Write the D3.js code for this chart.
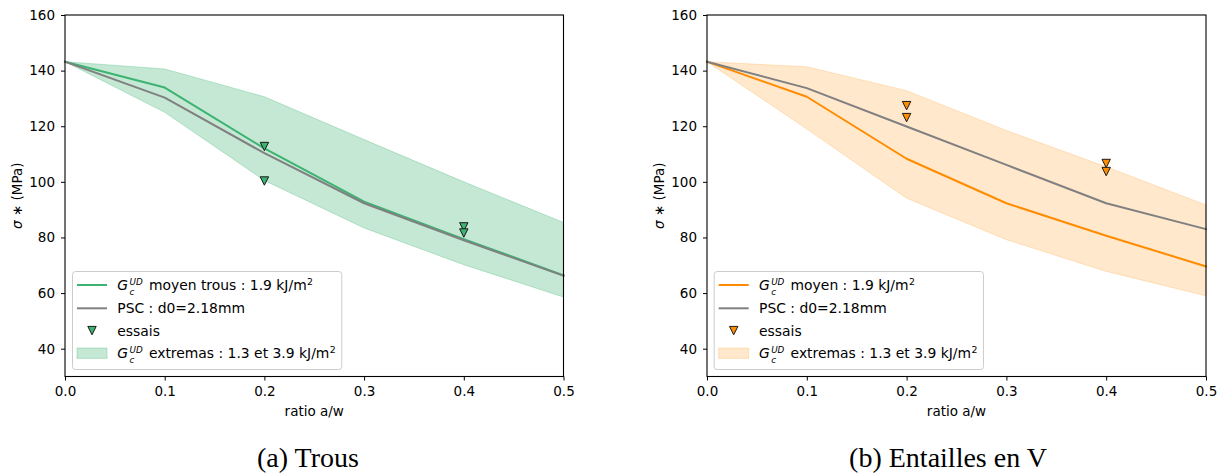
<!DOCTYPE html>
<html>
<head>
<meta charset="utf-8">
<script src="https://cdn.jsdelivr.net/npm/d3@7"></script>
<style>
  html, body { margin: 0; padding: 0; background: #ffffff; }
  svg { display: block; }
  text { white-space: pre; }
</style>
</head>
<body>
<div id="chart"></div>
<script>
// ---------------- DATA ----------------
const ratios = [0.0, 0.1, 0.2, 0.3, 0.4, 0.5];
const xTickValues = [0.0, 0.1, 0.2, 0.3, 0.4, 0.5];
const yTickValues = [40, 60, 80, 100, 120, 140, 160];

// (a) Trous
const trousMoyen = [143.2, 133.9, 112.0, 92.9, 79.4, 66.4];
const trousPSC   = [143.2, 130.3, 110.3, 92.3, 79.0, 66.2];
const trousUpper = [143.2, 140.6, 130.6, 115.2, 100.0, 85.4];
const trousLower = [143.2, 125.0, 100.5, 83.4, 70.2, 58.6];
const trousEssaisX = [0.2, 0.2, 0.4, 0.4];
const trousEssaisY = [112.7, 100.3, 83.8, 81.6];

// (b) Entailles en V
const entMoyen = [143.2, 130.6, 108.3, 92.3, 80.6, 69.6];
const entPSC   = [143.2, 133.7, 119.9, 106.1, 92.3, 83.0];
const entUpper = [143.2, 141.4, 132.8, 118.5, 105.4, 91.7];
const entLower = [143.2, 119.0, 94.1, 79.2, 67.8, 59.0];
const entEssaisX = [0.2, 0.2, 0.4, 0.4];
const entEssaisY = [127.4, 123.1, 106.6, 103.7];

const legendTexts = {
  trousMean: " moyen trous : 1.9 kJ/m",
  entMean: " moyen : 1.9 kJ/m",
  psc: "PSC : d0=2.18mm",
  essais: "essais",
  extremas: " extremas : 1.3 et 3.9 kJ/m"
};
const captions = ["(a) Trous", "(b) Entailles en V"];
const xLabel = "ratio a/w";

// ---------------- DRAW ----------------
const W = 1222, H = 476;
const FONT = "DejaVu Sans";
const FS = 13.5;
const LFS = 13.9;
const SFS = 8.8;

const svg = d3.select("#chart").append("svg")
  .attr("width", W).attr("height", H)
  .attr("font-family", FONT);
svg.append("rect").attr("width", W).attr("height", H).attr("fill", "#ffffff");

// Single text element with tspans: G_c^{UD} + rest + superscript 2
function gcLabel(g, x, baseline, rest) {
  const t = g.append("text").attr("font-size", LFS);
  const tG = t.append("tspan").attr("x", x).attr("y", baseline)
    .attr("font-style", "italic").text("G");
  const wG = tG.node().getComputedTextLength();
  const sx = x + wG + 1.4;
  const tSup = t.append("tspan").attr("x", sx).attr("y", baseline - 5.5)
    .attr("font-size", SFS).attr("font-style", "italic").text("UD");
  const tSub = t.append("tspan").attr("x", sx).attr("y", baseline + 4.8)
    .attr("font-size", SFS).attr("font-style", "italic").text("c");
  const ws = Math.max(tSup.node().getComputedTextLength(), tSub.node().getComputedTextLength());
  const rx = sx + ws + 1.8;
  const tR = t.append("tspan").attr("x", rx).attr("y", baseline).text(rest);
  const w2 = tR.node().getComputedTextLength();
  const t3 = t.append("tspan").attr("x", rx + w2 + 0.4).attr("y", baseline - 5)
    .attr("font-size", SFS + 0.6).text("2");
  return rx + w2 + 0.4 + t3.node().getComputedTextLength();
}

function drawPanel(cfg) {
  const g = svg.append("g");
  const x = d3.scaleLinear().domain([0, 0.5]).range([cfg.left, cfg.right]);
  const y = d3.scaleLinear().domain([30, 160]).range([cfg.bottom, cfg.top]);

  const idx = d3.range(ratios.length);

  // band
  const area = d3.area()
    .x(i => x(ratios[i]))
    .y0(i => y(cfg.lower[i]))
    .y1(i => y(cfg.upper[i]));
  g.append("path").datum(idx).attr("d", area)
    .attr("fill", cfg.color).attr("fill-opacity", cfg.alpha)
    .attr("stroke", cfg.color).attr("stroke-opacity", cfg.alpha).attr("stroke-width", 1);

  const line = vals => d3.line().x(i => x(ratios[i])).y(i => y(vals[i]))(idx);
  g.append("path").attr("d", line(cfg.mean))
    .attr("fill", "none").attr("stroke", cfg.color).attr("stroke-width", 2)
    .attr("stroke-linejoin", "round").attr("stroke-linecap", "square");
  g.append("path").attr("d", line(cfg.psc))
    .attr("fill", "none").attr("stroke", "#808080").attr("stroke-width", 2)
    .attr("stroke-linejoin", "round").attr("stroke-linecap", "square");

  const tri = r => `M${-r},${-r}L${r},${-r}L0,${r}Z`;
  g.selectAll(".ess").data(d3.range(cfg.ex.length)).join("path")
    .attr("d", tri(4.2))
    .attr("transform", i => `translate(${x(cfg.ex[i])},${y(cfg.ey[i])})`)
    .attr("fill", cfg.color).attr("stroke", "#1a1a1a").attr("stroke-width", 1);

  // axes
  const xa = g.append("g").attr("transform", `translate(0,${cfg.bottom})`)
    .call(d3.axisBottom(x).tickValues(xTickValues).tickFormat(d3.format(".1f"))
      .tickSize(4).tickPadding(6));
  const ya = g.append("g").attr("transform", `translate(${cfg.left},0)`)
    .call(d3.axisLeft(y).tickValues(yTickValues).tickFormat(d3.format("d"))
      .tickSize(4).tickPadding(6));
  [xa, ya].forEach(a => {
    a.select(".domain").remove();
    a.selectAll("text").attr("font-size", FS).attr("font-family", FONT).attr("fill", "#000");
    a.selectAll("line").attr("stroke", "#000").attr("stroke-width", 1);
  });

  g.append("rect").attr("x", cfg.left).attr("y", cfg.top)
    .attr("width", cfg.right - cfg.left).attr("height", cfg.bottom - cfg.top)
    .attr("fill", "none").attr("stroke", "#000").attr("stroke-width", 1.1);

  // axis labels
  g.append("text").attr("x", (cfg.left + cfg.right) / 2).attr("y", cfg.bottom + 39.5)
    .attr("text-anchor", "middle").attr("font-size", FS).text(xLabel);
  const yl = g.append("text")
    .attr("transform", `translate(${cfg.left - 43.5},${(cfg.top + cfg.bottom) / 2}) rotate(-90)`)
    .attr("text-anchor", "middle").attr("font-size", FS);
  yl.append("tspan").attr("font-style", "italic").text("σ");
  yl.append("tspan").text(" ∗ (MPa)");

  // legend
  const lg = g.append("g");
  const bx = cfg.left + cfg.legendDx, by = 271.5;
  const frame = lg.append("rect").attr("x", bx).attr("y", by).attr("height", 98)
    .attr("rx", 3).attr("fill", "#ffffff").attr("fill-opacity", 0.8)
    .attr("stroke", "#cccccc").attr("stroke-width", 1);
  const rows = [285, 308.3, 330.6, 353.2];
  const hx0 = bx + 4.5, hx1 = bx + 34.5, tx = bx + 44.8;
  lg.append("line").attr("x1", hx0).attr("x2", hx1).attr("y1", rows[0]).attr("y2", rows[0])
    .attr("stroke", cfg.color).attr("stroke-width", 2);
  lg.append("line").attr("x1", hx0).attr("x2", hx1).attr("y1", rows[1]).attr("y2", rows[1])
    .attr("stroke", "#808080").attr("stroke-width", 2);
  lg.append("path").attr("d", tri(4.2))
    .attr("transform", `translate(${(hx0 + hx1) / 2},${rows[2]})`)
    .attr("fill", cfg.color).attr("stroke", "#1a1a1a").attr("stroke-width", 1);
  lg.append("rect").attr("x", hx0).attr("y", rows[3] - 5.2).attr("width", hx1 - hx0).attr("height", 10.4)
    .attr("fill", cfg.color).attr("fill-opacity", cfg.alpha)
    .attr("stroke", cfg.color).attr("stroke-opacity", cfg.alpha);

  const e1 = gcLabel(lg, tx, rows[0] + 5, cfg.meanText);
  const t2 = lg.append("text").attr("x", tx).attr("y", rows[1] + 5).attr("font-size", LFS).text(legendTexts.psc);
  const t3 = lg.append("text").attr("x", tx).attr("y", rows[2] + 5).attr("font-size", LFS).text(legendTexts.essais);
  const e4 = gcLabel(lg, tx, rows[3] + 5, legendTexts.extremas);
  const maxEnd = Math.max(e1, e4, tx + t2.node().getComputedTextLength(), tx + t3.node().getComputedTextLength());
  frame.attr("width", maxEnd + 6 - bx);

  // caption
  svg.append("text").attr("x", cfg.capX).attr("y", 467)
    .attr("text-anchor", "middle").attr("font-family", "Liberation Serif")
    .attr("font-size", 28).text(cfg.caption);
}

drawPanel({
  left: 65, right: 563.5, top: 15, bottom: 376.5,
  color: "#3cb371", alpha: 0.3,
  mean: trousMoyen, psc: trousPSC, upper: trousUpper, lower: trousLower,
  ex: trousEssaisX, ey: trousEssaisY,
  meanText: legendTexts.trousMean, legendDx: 7.5,
  capX: 308, caption: captions[0]
});
drawPanel({
  left: 707, right: 1206, top: 15, bottom: 376.5,
  color: "#ff8c00", alpha: 0.2,
  mean: entMoyen, psc: entPSC, upper: entUpper, lower: entLower,
  ex: entEssaisX, ey: entEssaisY,
  meanText: legendTexts.entMean, legendDx: 7.2,
  capX: 948, caption: captions[1]
});
</script>
</body>
</html>
